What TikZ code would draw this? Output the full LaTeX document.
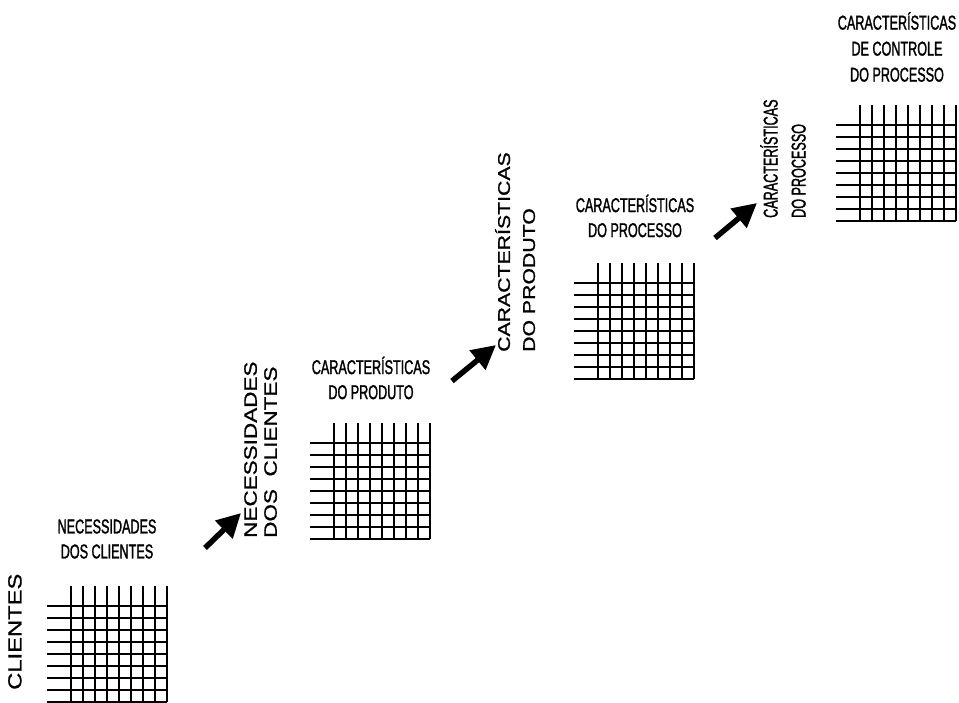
\documentclass[tikz,border=0pt]{standalone}
\usepackage{fontspec}
\setmainfont{Liberation Sans}
\newfontfamily\widesans{Liberation Sans}[FakeStretch=1.25, FakeBold=0.9]
\newfontfamily\narrowsans{Liberation Sans}[FakeStretch=0.63, FakeBold=1.4]
\usetikzlibrary{arrows.meta}

% one relationship matrix: #1,#2 = top-left corner of the cells
\newcommand{\qfdgrid}[2]{%
  \foreach \k in {0,...,8} {
    \draw[gridline] ({#1-24},{#2+12*\k}) -- ({#1+96},{#2+12*\k});
    \draw[gridline] ({#1+12*\k},{#2-20}) -- ({#1+12*\k},{#2+96});
  }}

\begin{document}
\begin{tikzpicture}[x=1pt, y=-1pt,
    gridline/.style={line width=2.2pt},
    headlbl/.style={align=center, inner sep=0pt,
      font=\narrowsans\fontsize{20}{25}\selectfont},
    sidelbl/.style={rotate=90, align=left, inner sep=0pt, anchor=north west,
      font=\widesans\fontsize{18}{20}\selectfont},
    sidenarrow/.style={rotate=90, align=left, inner sep=0pt, anchor=north west,
      font=\narrowsans\fontsize{20}{28}\selectfont},
    bigarrow/.style={-{Triangle[length=24pt, width=24pt]}, line width=5.5pt},
  ]
    \useasboundingbox (0,0) rectangle (959,702);

    % ═══ Matrix 1: clientes ═══
    \node[sidelbl, font=\widesans\fontsize{19}{19}\selectfont] (cust) at (8,690) {CLIENTES};
    \node[headlbl] (needsTop) at (107,539) {NECESSIDADES\\DOS CLIENTES};
    \qfdgrid{71}{606}

    \coordinate (a1s) at (205,548);
    \coordinate (a1e) at (241,513);
    \draw[bigarrow] (a1s) -- (a1e);

    % ═══ Matrix 2: produto ═══
    \node[sidelbl] (needsSide) at (244,538) {NECESSIDADES\\DOS\ \ CLIENTES};
    \node[headlbl] (prodTop) at (371,378) {CARACTERÍSTICAS\\DO PRODUTO};
    \qfdgrid{334}{443}

    \coordinate (a2s) at (452,381);
    \coordinate (a2e) at (496,345);
    \draw[bigarrow] (a2s) -- (a2e);

    % ═══ Matrix 3: processo ═══
    \node[sidelbl, font=\widesans\fontsize{17}{25}\selectfont] (prodSide) at (495,352)
      {CARACTERÍSTICAS\\DO PRODUTO};
    \node[headlbl] (procTop) at (635,216) {CARACTERÍSTICAS\\DO PROCESSO};
    \qfdgrid{598}{283}

    \coordinate (a3s) at (715,238);
    \coordinate (a3e) at (757,203);
    \draw[bigarrow] (a3s) -- (a3e);

    % ═══ Matrix 4: controle ═══
    \node[sidenarrow] (procSide) at (760,218) {CARACTERÍSTICAS\\DO PROCESSO};
    \node[headlbl, font=\narrowsans\fontsize{20}{26}\selectfont] (ctrlTop) at (897,47)
      {CARACTERÍSTICAS\\DE CONTROLE\\DO PROCESSO};
    \qfdgrid{860}{125}
\end{tikzpicture}
\end{document}
